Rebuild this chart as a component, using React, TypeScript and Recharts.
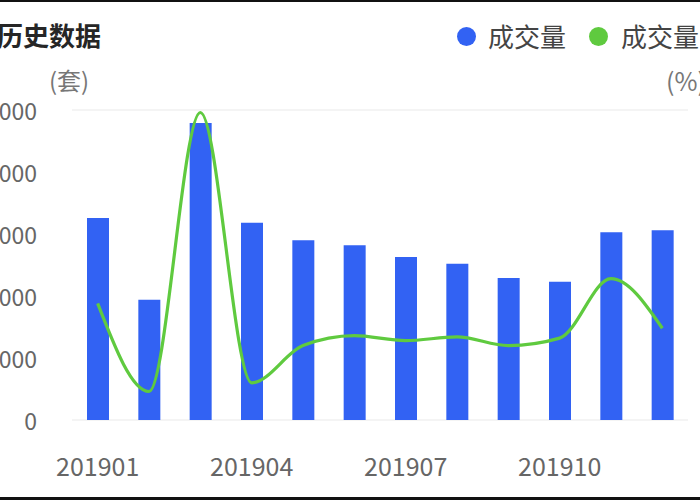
import React from 'react';
import { ComposedChart, Bar, Line, XAxis, YAxis, CartesianGrid } from 'recharts';

// 月份
const months = ['201901', '201902', '201903', '201904', '201905', '201906', '201907', '201908', '201909', '201910', '201911', '201912'];
// 成交量（套）
const volume = [3260, 1940, 4790, 3180, 2900, 2820, 2630, 2520, 2290, 2230, 3030, 3060];
// 成交量环比（%）
const volumeRate = [44, -27, 198, -20, 10, 18, 14, 17, 10, 16, 64, 24];
const leftTicks = [0, 1000, 2000, 3000, 4000, 5000];

const BAR_COLOR = '#3262f3';
const LINE_COLOR = '#5fca3f';
const FONT = "'Noto Sans CJK SC', 'Noto Sans', sans-serif";

const data = months.map((m, i) => ({ month: m, volume: volume[i], rate: volumeRate[i] }));

const YTick = ({ y, payload }: any) => (
    <text x={37} y={y} textAnchor="end" dominantBaseline="central" fill="#666" fontSize={23} fontFamily={FONT}>
        {payload.value}
    </text>
);

const XTick = ({ x, y, payload }: any) => (
    <text x={x} y={y + 37} textAnchor="middle" dominantBaseline="central" fill="#666" fontSize={25} fontFamily={FONT}>
        {payload.value}
    </text>
);

// 图例（放在图表外，避免占用绘图区高度）
const LegendRow = () => (
    <div style={{ position: 'absolute', top: 17, left: 457, display: 'flex', alignItems: 'center', fontSize: 26, color: '#444', whiteSpace: 'nowrap', lineHeight: '38px' }}>
        <span style={{ width: 19, height: 19, borderRadius: '50%', background: BAR_COLOR, marginRight: 12 }} />
        <span style={{ marginRight: 23 }}>成交量</span>
        <span style={{ width: 19, height: 19, borderRadius: '50%', background: LINE_COLOR, marginRight: 13 }} />
        <span>成交量</span>
    </div>
);

export default function App() {
    return (
        <div style={{ position: 'fixed', left: 0, top: 0, width: 700, height: 500, overflow: 'hidden', background: '#fff', fontFamily: FONT }}>
            <div style={{ position: 'absolute', left: 0, top: 0, width: 700, height: 2, background: '#111' }} />
            <div style={{ position: 'absolute', left: -3, top: 16, fontSize: 26, fontWeight: 700, color: '#262626', lineHeight: '38px' }}>历史数据</div>
            <div style={{ position: 'absolute', left: 49, top: 62, fontSize: 24, color: '#777', lineHeight: '36px' }}>(套)</div>
            <div style={{ position: 'absolute', left: 666, top: 62, fontSize: 25, color: '#777', lineHeight: '36px', whiteSpace: 'nowrap' }}>(%)</div>
            <LegendRow />
            <ComposedChart width={700} height={500} data={data} margin={{ top: 110, right: 12, bottom: 20, left: 0 }}>
                <CartesianGrid vertical={false} stroke="#f1f1f1" strokeWidth={1.5} />
                <XAxis dataKey="month" axisLine={false} tickLine={false} interval={2} height={60} tick={<XTick />} />
                <YAxis yAxisId="left" domain={[0, 5000]} ticks={leftTicks} axisLine={false} tickLine={false} width={72} tick={<YTick />} />
                <YAxis yAxisId="right" orientation="right" domain={[-50, 200]} hide />
                <Bar yAxisId="left" dataKey="volume" name="成交量" fill={BAR_COLOR} barSize={22} isAnimationActive={false} />
                <Line yAxisId="right" type="monotone" dataKey="rate" name="成交量" stroke={LINE_COLOR} strokeWidth={3.2} dot={false} isAnimationActive={false} />
            </ComposedChart>
            <div style={{ position: 'absolute', left: 0, top: 497, width: 700, height: 3, background: '#111' }} />
        </div>
    );
}
